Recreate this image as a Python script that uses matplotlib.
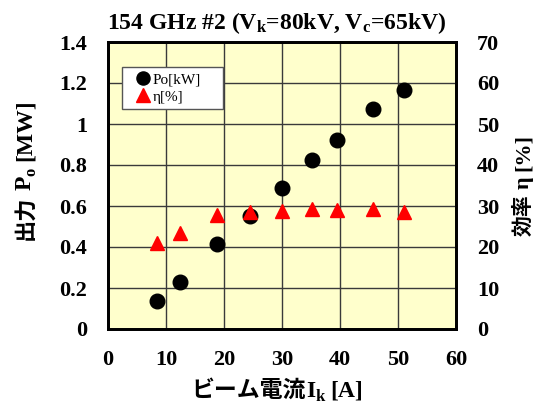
import numpy as np
import matplotlib
matplotlib.use("Agg")
import matplotlib.pyplot as plt
from matplotlib.transforms import IdentityTransform

FAMILY = ['Liberation Serif', 'Noto Sans CJK JP']
plt.rcParams['font.family'] = FAMILY
plt.rcParams['font.weight'] = 'bold'
plt.rcParams['mathtext.fontset'] = 'custom'
plt.rcParams['mathtext.rm'] = 'Liberation Serif:bold'
plt.rcParams['mathtext.it'] = 'Liberation Serif:bold'
plt.rcParams['mathtext.bf'] = 'Liberation Serif:bold'

# Beam current [A]
beam_current = [8.4, 12.4, 18.8, 24.5, 30.0, 35.2, 39.5, 45.7, 51.0]
# Output power [MW]
power_mw = [0.136, 0.230, 0.415, 0.552, 0.689, 0.823, 0.921, 1.072, 1.166]
# Efficiency [%]
efficiency = [21.0, 23.4, 27.8, 28.5, 28.9, 29.3, 29.0, 29.3, 28.6]

x_ticks = [0, 10, 20, 30, 40, 50, 60]
p_ticks = [0, 0.2, 0.4, 0.6, 0.8, 1, 1.2, 1.4]
eta_ticks = [0, 10, 20, 30, 40, 50, 60, 70]

W, H = 537, 405
fig = plt.figure(figsize=(W / 100, H / 100), dpi=100)
ax = fig.add_axes([108 / W, 1 - 329 / H, 348 / W, 287 / H])
ax.set_facecolor('#FFFFCC')
ax2 = ax.twinx()

ax.set_xlim(0, 60)
ax.set_ylim(0, 1.4)
ax2.set_ylim(0, 70)
ax.set_xticks(x_ticks)
ax.set_yticks(p_ticks)
ax2.set_yticks(eta_ticks)
ax.set_xticklabels([str(v) for v in x_ticks])
ax.set_yticklabels([f"{v:g}" for v in p_ticks])
ax2.set_yticklabels([str(v) for v in eta_ticks])

ax.grid(True, color='#3a3a3a', linewidth=1.0)
ax.set_axisbelow(True)

for a in (ax, ax2):
    a.tick_params(length=0, labelsize=16, pad=15)
    for s in a.spines.values():
        s.set_linewidth(2.0)
        s.set_color('black')

h1, = ax.plot(beam_current, power_mw, 'o', color='black', ms=10.5,
              linestyle='none', label='Po[kW]', zorder=3)
h2, = ax2.plot(beam_current, efficiency, '^', color='#FF0000', ms=10.5,
               linestyle='none', label='η[%]', zorder=4)

leg = ax2.legend(handles=[h1, h2], loc='upper left',
                 bbox_to_anchor=(14 / 348, 1 - 65 / 287, 101 / 348, 40 / 287),
                 mode='expand', borderaxespad=0,
                 prop={'family': FAMILY, 'weight': 'normal', 'size': 11},
                 fancybox=False, framealpha=1, edgecolor='#555555',
                 handlelength=2.1, handletextpad=-0.45, borderpad=0.35,
                 labelspacing=0.25, markerscale=0.9)
leg.get_frame().set_linewidth(1.0)
leg.set_zorder(10)

# Title (pixel position, baseline)
fig.text(277, H - 29, '154 GHz #2 (V$_\\mathrm{k}$=80kV, V$_\\mathrm{c}$=65kV)',
         fontsize=17, fontweight='bold', ha='center', va='baseline',
         transform=IdentityTransform())

renderer = fig.canvas.get_renderer()


def rich_label(pieces, cx, cy, rotation):
    """Lay out text pieces (text, size, shift_px, gap_px) along one baseline,
    centred on (cx, cy) in pixels."""
    th = np.deg2rad(rotation)
    d = np.array([np.cos(th), np.sin(th)])
    up = np.array([-np.sin(th), np.cos(th)])
    items = []
    for s, size, shift, gap in pieces:
        t = fig.text(0, 0, s, fontsize=size, fontweight='bold',
                     family=FAMILY, rotation=rotation, rotation_mode='anchor',
                     ha='left', va='baseline', transform=IdentityTransform())
        bb = t.get_window_extent(renderer)
        length = bb.width if rotation == 0 else bb.height
        items.append((t, length, shift, gap))
    total = sum(L + g for _, L, _, g in items) - items[-1][3]
    pos = np.array([cx, cy], dtype=float) - d * total / 2
    for t, L, shift, gap in items:
        p = pos + up * shift
        t.set_position((p[0], p[1]))
        pos = pos + d * (L + gap)


# x label: ビーム電流 I_k [A]
rich_label([('ビーム電流', 16.5, 0, 1), ('I', 17, 0, 0), ('k', 12, -4, 5),
            ('[A]', 17, 0, 0)], 277, H - 397, 0)
# left y label: 出力 P_o [MW]
rich_label([('出力', 16, 0, 6), ('P', 17, 0, 0), ('o', 12, -4, 6),
            ('[MW]', 17, 0, 0)], 31, H - 170, 90)
# right y label: 効率 η [%]
rich_label([('効率', 15, 0, 5), ('η', 16, 0, 5), ('[%]', 16, 0, 0)],
           529, H - 185, 90)

fig.savefig('out.png', dpi=100, facecolor='white')
